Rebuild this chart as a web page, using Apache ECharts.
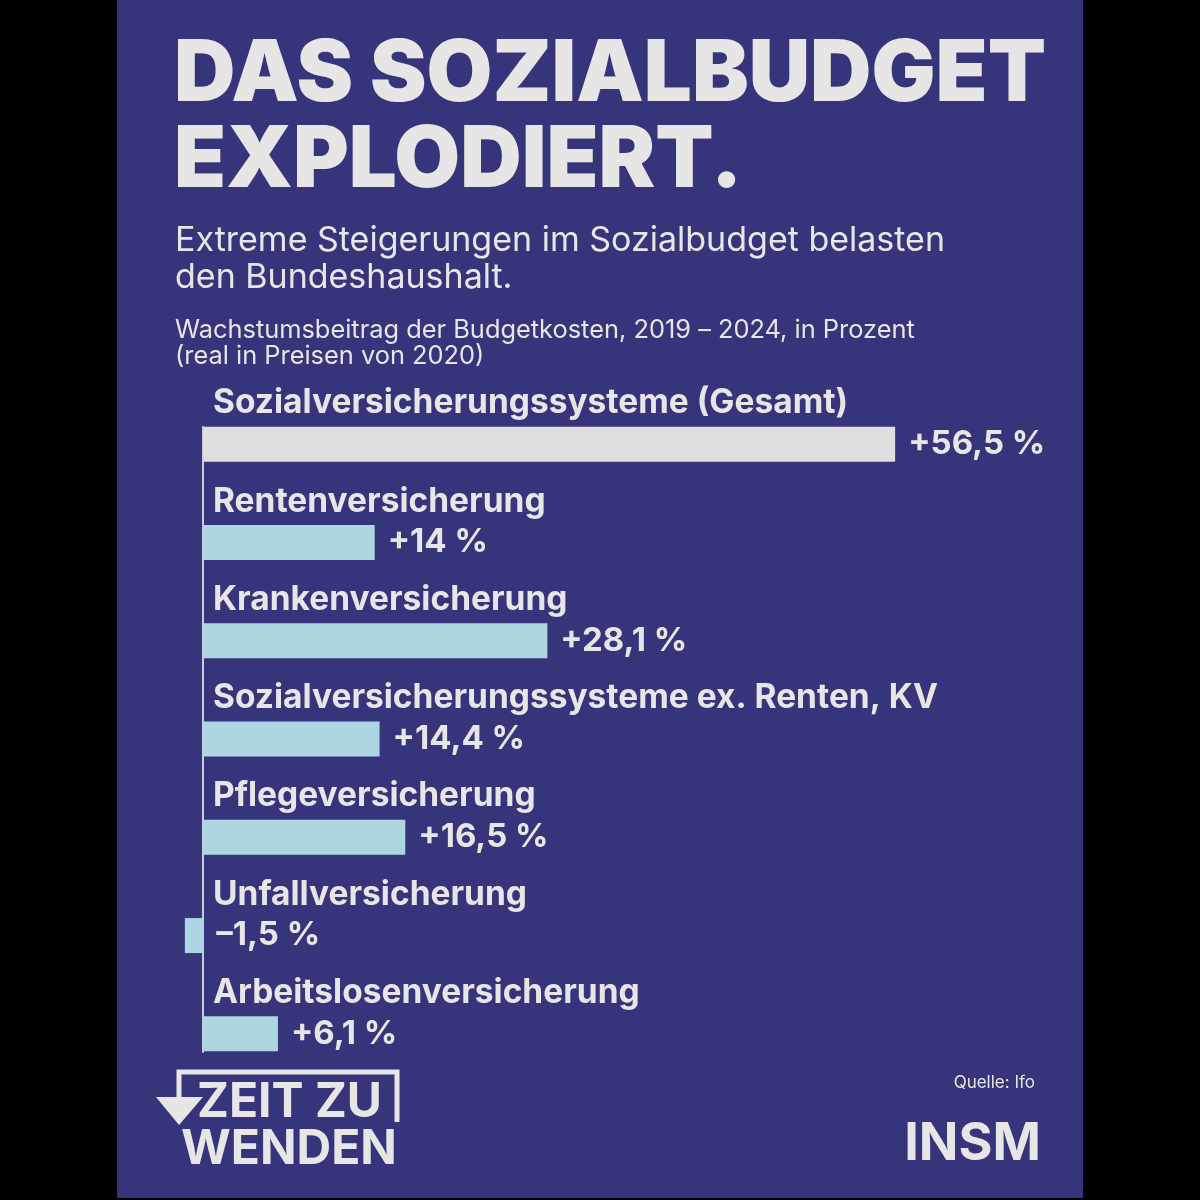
<!DOCTYPE html>
<html>
<head>
<meta charset="utf-8">
<script src="https://cdn.jsdelivr.net/npm/echarts@6/dist/echarts.min.js"></script>
<style>
  html, body { margin: 0; padding: 0; background: #000; }
  #main { width: 1200px; height: 1200px; }
</style>
</head>
<body>
<div id="main"></div>
<script>
// Daten: Wachstumsbeitrag 2019-2024 in Prozent
var categories = [
  'Sozialversicherungssysteme (Gesamt)',
  'Rentenversicherung',
  'Krankenversicherung',
  'Sozialversicherungssysteme ex. Renten, KV',
  'Pflegeversicherung',
  'Unfallversicherung',
  'Arbeitslosenversicherung'
]
var values = [56.5, 14, 28.1, 14.4, 16.5, -1.5, 6.1]

var bg = '#36347a'
var textColor = '#e6e6e6'
var fontFamily = 'Inter, "Noto Sans", sans-serif'

function fmt (v) {
  var s = Math.abs(v).toString().replace('.', ',')
  return (v < 0 ? '–' : '+') + s + ' %'
}

var chart = echarts.init(document.getElementById('main'))
chart.setOption({
  backgroundColor: '#000',
  animation: false,
  textStyle: { fontFamily: fontFamily },
  grid: [
    { left: 142, right: 262, top: 395, bottom: 117 },
    // nur fuer die Nulllinie
    { left: 142, right: 262, top: 427, bottom: 148 }
  ],
  xAxis: [
    { type: 'value', min: -5, max: 60, show: false, gridIndex: 0 },
    { type: 'value', min: -5, max: 60, show: false, gridIndex: 1 }
  ],
  yAxis: [{
    type: 'category',
    gridIndex: 0,
    inverse: true,
    data: categories,
    axisLine: { show: false, onZero: false },
    axisTick: { show: false },
    splitLine: { show: false },
    axisLabel: {
      inside: true,
      interval: 0,
      margin: 71,
      color: textColor,
      fontSize: 33.5,
      fontWeight: 'bold',
      fontFamily: fontFamily,
      verticalAlign: 'bottom',
      lineHeight: 82,
      hideOverlap: false
    }
  }, {
    type: 'category',
    gridIndex: 1,
    inverse: true,
    data: categories,
    axisLine: { show: true, onZero: true, lineStyle: { color: '#c9c9dc', width: 2 } },
    axisTick: { show: false },
    axisLabel: { show: false },
    splitLine: { show: false }
  }],
  series: [{
    type: 'bar',
    xAxisIndex: 0,
    yAxisIndex: 0,
    barWidth: 35,
    data: values.map(function (v, i) {
      return { value: v, itemStyle: { color: i === 0 ? '#dedede' : '#acd6e2' } }
    }),
    label: {
      show: true,
      position: 'right',
      distance: 13,
      color: textColor,
      fontSize: 33,
      fontWeight: 'bold',
      fontFamily: fontFamily,
      formatter: function (p) { return fmt(p.value) }
    }
  }],
  graphic: [
    { type: 'rect', z: -10, shape: { x: 117, y: 0, width: 966, height: 1198 }, style: { fill: bg } },
    { type: 'text', style: { x: 174, y: 75, text: 'DAS SOZIALBUDGET', font: '900 85px ' + fontFamily, fill: textColor, verticalAlign: 'middle' } },
    { type: 'text', style: { x: 174, y: 161, text: 'EXPLODIERT.', font: '900 85px ' + fontFamily, fill: textColor, verticalAlign: 'middle' } },
    { type: 'text', style: { x: 175, y: 241, text: 'Extreme Steigerungen im Sozialbudget belasten', font: '400 34px ' + fontFamily, fill: textColor, verticalAlign: 'middle' } },
    { type: 'text', style: { x: 175, y: 278, text: 'den Bundeshaushalt.', font: '400 34px ' + fontFamily, fill: textColor, verticalAlign: 'middle' } },
    { type: 'text', style: { x: 175, y: 330, text: 'Wachstumsbeitrag der Budgetkosten, 2019 – 2024, in Prozent', font: '400 25.4px ' + fontFamily, fill: textColor, verticalAlign: 'middle' } },
    { type: 'text', style: { x: 175, y: 356, text: '(real in Preisen von 2020)', font: '400 25.4px ' + fontFamily, fill: textColor, verticalAlign: 'middle' } },
    { type: 'text', style: { x: 1035, y: 1083, text: 'Quelle: Ifo', font: '400 17px ' + fontFamily, fill: textColor, align: 'right', verticalAlign: 'middle' } },
    { type: 'text', style: { x: 1041, y: 1144, text: 'INSM', font: 'bold 52px ' + fontFamily, fill: textColor, align: 'right', verticalAlign: 'middle' } },
    // Logo "Zeit zu wenden"
    { type: 'polyline', shape: { points: [[179, 1097], [179, 1072], [397, 1072], [397, 1122]] }, style: { stroke: textColor, lineWidth: 5, fill: null } },
    { type: 'polygon', shape: { points: [[156, 1097], [203, 1097], [179, 1125]] }, style: { fill: textColor } },
    { type: 'text', style: { x: 197, y: 1103, text: 'ZEIT ZU', font: 'bold 48px ' + fontFamily, fill: textColor, verticalAlign: 'middle' } },
    { type: 'text', style: { x: 181, y: 1150, text: 'WENDEN', font: 'bold 48px ' + fontFamily, fill: textColor, verticalAlign: 'middle' } }
  ]
})
</script>
</body>
</html>
